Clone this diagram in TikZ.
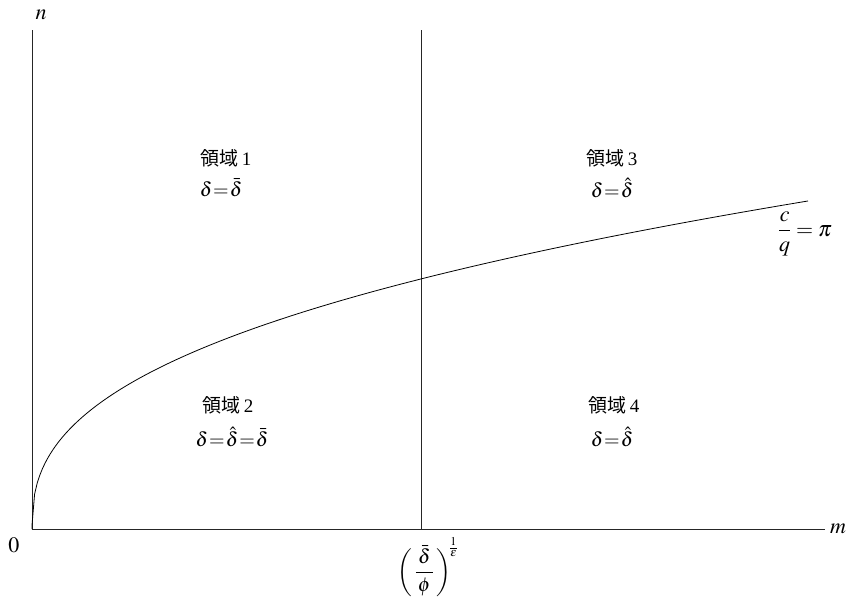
\documentclass[tikz,border=0pt]{standalone}
\usepackage{amsmath}
\usepackage{mathptmx}
\usepackage[no-math]{fontspec}
\setmainfont{Liberation Serif}
\newfontfamily\cjk{Noto Sans CJK JP}
\newcommand{\tighteq}{\mkern1mu{=}\mkern1mu}
\begin{document}
\begin{tikzpicture}[x=1pt,y=-1pt,
  axis/.style={line width=0.8pt,black!85},
  lbl/.style={font=\fontsize{20}{24}\selectfont, inner sep=0pt},
  big/.style={font=\fontsize{22}{26}\selectfont, inner sep=0pt},
  region/.style={font=\fontsize{19}{22}\selectfont\cjk, inner sep=0pt}]
\useasboundingbox (0,0) rectangle (850,598);
\coordinate (O) at (32,529);
\coordinate (Ytop) at (32,30);
\coordinate (Xend) at (825,529);
\coordinate (Vtop) at (421,30);
\coordinate (Vbot) at (421,529);
\draw[axis] (Ytop) -- (O) -- (Xend);
\draw[axis] (Vtop) -- (Vbot);
\draw[line width=0.8pt] (O) -- plot[domain=0.01:776, samples=300] ({32+\x}, {529-24.0*(\x)^0.393});
\node[big] (n) at (41,15) {$n$};
\node[big] (zero) at (14,545) {$0$};
\node[big] (m) at (838,529) {$m$};
\node[region] (r1) at (226,158) {領域\,\rmfamily 1};
\node[lbl] (e1) at (221,188) {$\delta\tighteq\bar\delta$};
\node[region] (r3) at (612,158) {領域\,\rmfamily 3};
\node[lbl] (e3) at (612,188) {$\delta\tighteq\hat\delta$};
\node[region] (r2) at (228,405) {領域\,\rmfamily 2};
\node[lbl] (e2) at (232,437) {$\delta\tighteq\hat\delta\tighteq\bar\delta$};
\node[region] (r4) at (614,405) {領域\,\rmfamily 4};
\node[lbl] (e4) at (612,437) {$\delta\tighteq\hat\delta$};
\node[big] (cq) at (805,234) {$\dfrac{c}{q}=\pi$};
\node[lbl] (xm) at (428,567) {$\left(\,\dfrac{\,\bar\delta\,}{\phi}\,\right)^{\!\frac{1}{\varepsilon}}$};
\end{tikzpicture}
\end{document}
